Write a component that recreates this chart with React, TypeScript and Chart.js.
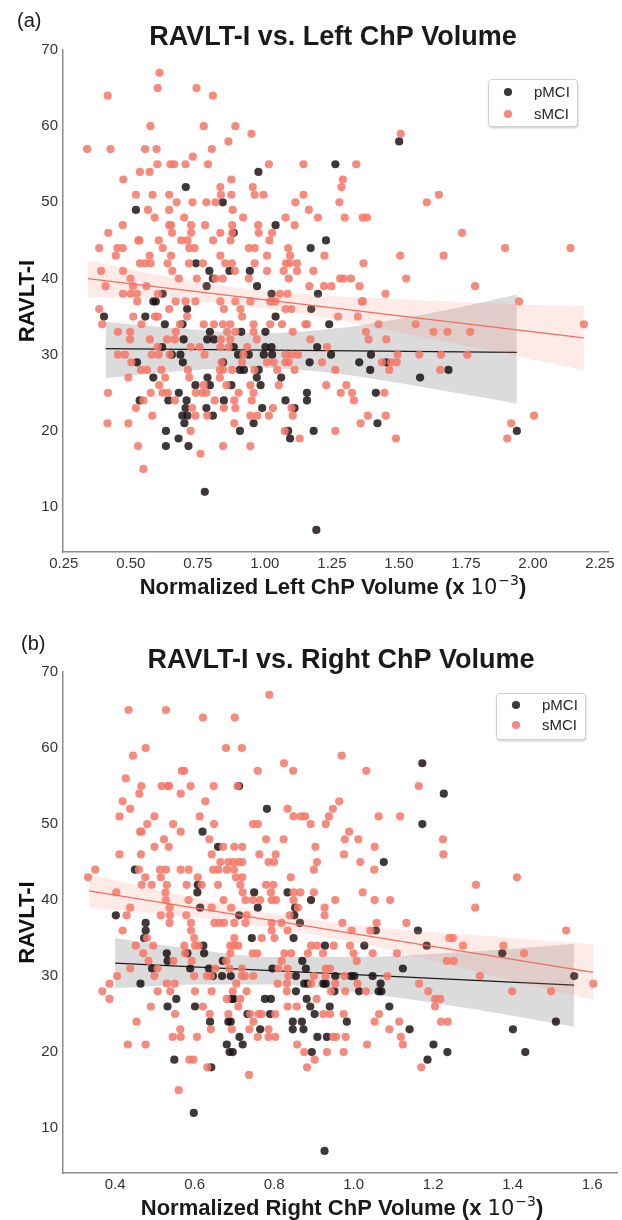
import React, { useEffect, useRef } from "react";
import { Chart, registerables } from "chart.js";

Chart.register(...registerables);

type Pt = [number, number];

// ---------------- tick labels ----------------
const LEFT_X_TICKS = [0.25, 0.5, 0.75, 1.0, 1.25, 1.5, 1.75, 2.0, 2.25];
const RIGHT_X_TICKS = [0.4, 0.6, 0.8, 1.0, 1.2, 1.4, 1.6];
const Y_TICKS = [10, 20, 30, 40, 50, 60, 70];

// ---------------- panel (a): Left ChP volume ----------------
const LEFT_PMCI: Pt[] = [
  [0.976,54],[0.705,52],[0.843,50],[0.519,49],[0.884,46],[0.743,42],[0.793,41],[0.868,41],[0.944,41],[0.806,40],[0.783,39],[0.971,39],[0.619,38],[0.584,37],
  [0.400,35],[0.554,35],[0.710,36],[0.627,34],[0.795,33],[0.912,33],[0.697,32],[0.785,32],[0.810,32],[0.617,31],[0.884,31],[0.653,30],[0.685,30],[0.900,30],[0.940,30],[0.523,29],[0.694,29],[0.844,29],[0.907,28],[0.922,28],[0.584,27],[0.786,27],[0.970,27],[0.741,26],[0.795,26],[0.875,26],[0.679,25],[0.533,24],[0.640,24],[0.708,24],[0.847,24],[0.704,23],[0.782,23],[0.692,22],[0.711,22],[0.806,22],[0.700,21],[0.958,21],[0.631,20],[0.907,20],[0.678,19],[0.631,18],[0.715,18],[0.776,12],[0.593,37],[0.693,34],
  [1.501,58],[1.263,55],[1.040,47],[1.228,45],[1.171,44],[1.025,38],[1.198,38],
  [1.173,36],[1.040,35],[1.240,34],[1.002,33],[1.002,31],[1.025,31],[1.195,31],[0.996,30],[1.027,30],[1.247,30],[1.396,30],[1.167,29],[1.352,29],[1.453,29],[0.977,28],[1.393,28],[1.685,28],[1.061,27],[1.579,27],[0.984,26],[1.157,25],[1.414,25],[1.077,24],[1.157,24],[0.990,23],[1.111,23],[1.420,21],[1.087,20],[1.182,20],[1.094,19],[1.192,7],[1.940,20],
];

const LEFT_SMCI: Pt[] = [
  [0.607,67],[0.600,65],[0.745,65],[0.414,64],[0.806,64],[0.573,60],[0.772,60],[0.890,60],[0.950,59],[0.864,58],[0.337,57],[0.424,57],[0.553,57],[0.596,57],[0.802,57],[0.731,56],[0.599,55],[0.648,55],[0.662,55],[0.704,55],[0.788,55],[0.534,54],[0.570,54],[0.472,53],[0.875,53],[0.834,52],[0.955,52],[0.519,51],[0.581,51],[0.643,51],[0.836,51],[0.875,51],[0.962,51],[0.671,50],[0.730,50],[0.782,50],[0.816,50],[0.564,49],[0.643,49],[0.880,49],[0.589,48],[0.699,48],[0.919,48],[0.470,47],[0.643,47],[0.650,47],[0.725,47],[0.777,47],[0.878,47],[0.416,46],[0.654,46],[0.725,46],[0.834,46],[0.878,46],[0.528,45],[0.532,45],[0.604,45],[0.688,45],[0.711,45],[0.807,45],[0.872,45],[0.382,44],[0.450,44],[0.470,44],[0.619,44],[0.718,44],[0.738,44],[0.940,44],[0.962,44],[0.444,43],[0.570,43],[0.650,43],[0.834,43],[0.534,42],[0.554,42],[0.574,42],[0.637,42],[0.717,42],[0.769,42],[0.852,42],[0.877,42],[0.962,42],[0.389,41],[0.471,41],[0.655,41],[0.888,41],[0.499,40],[0.679,40],[0.746,40],[0.816,40],[0.843,40],[0.940,40],[0.406,39],[0.508,39],[0.558,39],[0.471,38],[0.499,38],[0.523,38],[0.601,38],
  [0.524,37],[0.667,37],[0.704,37],[0.741,37],[0.834,37],[0.890,37],[0.946,37],
  [0.382,36],[0.643,36],[0.847,36],[0.909,36],
  [0.509,35],[0.590,35],[0.601,35],[0.710,35],[0.915,35],
  [0.393,34],[0.540,34],[0.683,34],[0.772,34],[0.810,34],[0.844,34],[0.871,34],[0.958,34],
  [0.452,33],[0.498,33],[0.668,33],[0.859,33],[0.890,33],[0.958,33],
  [0.497,32],[0.571,32],[0.635,32],[0.664,32],[0.836,32],[0.871,32],[0.970,32],
  [0.600,31],[0.724,31],[0.756,31],[0.834,31],[0.865,31],[0.934,31],
  [0.452,30],[0.478,30],[0.578,30],[0.604,30],[0.645,30],[0.775,30],[0.920,30],
  [0.502,29],[0.838,29],[0.915,29],
  [0.538,28],[0.560,28],[0.614,28],[0.713,28],[0.832,28],[0.844,28],[0.878,28],[0.961,28],
  [0.491,27],[0.628,27],[0.718,27],[0.832,27],
  [0.606,26],[0.772,26],[0.857,26],[0.946,26],
  [0.415,25],[0.574,25],[0.618,25],[0.638,25],[0.742,25],[0.766,25],[0.782,25],[0.902,25],[0.958,25],
  [0.547,24],[0.664,24],[0.813,24],[0.886,24],[0.951,24],
  [0.519,23],[0.729,23],[0.847,23],[0.890,23],
  [0.580,22],[0.741,22],[0.785,22],[0.946,22],[0.971,22],
  [0.413,21],[0.491,21],[0.886,21],
  [0.723,20],[0.527,18],[0.844,18],[0.946,18],[0.760,17],[0.547,15],
  [1.507,59],[1.015,55],[1.144,55],[1.341,55],[1.291,53],[1.286,52],[0.995,51],[1.144,51],[1.649,51],[1.604,50],[1.278,50],[1.114,50],[1.164,49],[1.077,48],[1.198,48],[1.298,48],[1.365,48],[1.381,48],[1.111,47],[0.975,47],[1.027,46],[0.977,46],[1.017,45],[1.087,44],[1.008,43],[1.094,43],[1.222,43],[1.505,43],[1.667,43],[1.079,42],[1.092,42],[1.120,42],[1.368,42],[1.070,41],[1.008,41],[1.120,41],[1.181,41],[1.089,40],[1.281,40],[1.294,40],[1.321,40],[1.527,40],[1.166,39],[1.221,39],[1.248,39],[1.353,39],[1.056,38],[1.084,38],[1.450,38],[1.365,37],[1.027,37],
  [1.736,46],[1.896,44],[2.140,44],[1.784,39],
  [1.362,37],[1.020,37],[1.040,37],[1.077,36],[1.099,36],[1.273,35],[1.347,35],[1.020,34],[1.064,34],[1.151,34],[1.157,34],[1.424,34],[1.563,34],[1.104,33],[1.377,33],[1.629,33],[1.681,33],[1.387,32],[1.453,32],[1.170,32],[1.232,31],[1.077,30],[1.101,30],[1.124,30],[1.495,30],[1.576,30],[1.657,30],[1.008,29],[1.033,29],[1.077,29],[1.089,29],[1.213,29],[1.437,29],[1.471,29],[1.492,29],[1.046,28],[1.111,28],[1.263,28],[1.464,28],[1.654,28],[1.052,26],[1.229,26],[1.304,26],[1.283,25],[1.325,25],[1.446,25],[1.332,24],[1.030,23],[1.099,23],[1.015,22],[1.104,22],[1.384,22],[1.451,22],[1.357,21],[1.074,20],[1.263,20],[1.130,19],[1.489,19],
  [1.948,37],[2.190,34],[1.766,33],[1.755,30],[2.004,22],[1.919,21],[1.904,19],
];

const LEFT_PMCI_FIT_X = [0.406, 1.94];
const LEFT_PMCI_FIT_Y = [30.8, 30.3];
const LEFT_PMCI_BAND_X = [0.406, 0.7, 0.98, 1.25, 1.5, 1.71, 1.94];
const LEFT_PMCI_BAND_HI = [34.3, 33.4, 32.8, 33.4, 34.7, 36.1, 37.9];
const LEFT_PMCI_BAND_LO = [26.9, 27.9, 28.3, 27.6, 26.3, 25.0, 23.6];

const LEFT_SMCI_FIT_X = [0.34, 2.19];
const LEFT_SMCI_FIT_Y = [40.0, 32.2];
const LEFT_SMCI_BAND_X = [0.34, 0.6, 0.9, 1.2, 1.5, 1.8, 2.19];
const LEFT_SMCI_BAND_HI = [42.4, 40.5, 38.8, 37.8, 37.3, 36.8, 36.4];
const LEFT_SMCI_BAND_LO = [37.6, 37.3, 36.5, 35.0, 32.9, 30.8, 28.0];

// ---------------- panel (b): Right ChP volume ----------------
const RIGHT_PMCI: Pt[] = [
  [0.712,55],[0.620,49],[0.659,47],[0.450,44],[0.608,42],[0.607,41],[0.750,41],[0.614,39],[0.759,39],[0.402,38],[0.712,38],[0.477,37],
  [0.477,36],[0.473,35],[0.744,35],[0.622,34],[0.530,33],[0.582,33],[0.624,33],[0.532,32],[0.671,32],[0.493,31],[0.589,31],[0.636,31],[0.646,30],[0.669,30],[0.691,30],[0.464,29],[0.554,27],[0.694,27],[0.698,27],[0.532,26],[0.601,26],[0.733,25],[0.639,24],[0.685,24],[0.691,24],[0.765,23],[0.713,22],[0.681,21],[0.721,21],[0.688,20],[0.696,20],[0.549,19],[0.642,18],[0.598,12],
  [1.173,58],[1.227,54],[0.782,52],[1.173,50],[1.076,45],[0.834,41],[0.893,40],[0.853,39],[0.851,38],[0.865,37],
  [1.056,36],[1.162,36],[0.849,35],[0.928,34],[1.027,34],[1.184,34],[0.871,32],[0.796,31],[0.880,31],[1.124,31],[0.855,30],[0.954,30],[0.993,30],[1.002,30],[1.048,30],[0.876,29],[0.885,29],[0.924,29],[0.930,29],[1.068,29],[0.855,28],[0.952,28],[1.014,28],[1.063,28],[1.070,28],[0.777,27],[0.792,27],[0.882,27],[0.891,26],[0.940,26],[1.090,26],[0.790,25],[0.902,25],[0.847,24],[0.870,24],[0.983,24],[0.847,23],[0.874,23],[1.141,23],[0.909,22],[0.933,22],[1.201,21],[0.895,20],[1.236,20],[1.186,19],[0.927,7],
  [1.374,33],[1.555,30],[1.401,23],[1.509,24],[1.432,20],
];

const RIGHT_SMCI: Pt[] = [
  [0.434,65],[0.528,65],[0.621,64],[0.701,64],[0.477,60],[0.679,60],[0.719,60],[0.445,59],[0.568,57],[0.574,57],[0.759,57],[0.427,56],[0.466,55],[0.517,55],[0.532,55],[0.536,55],[0.590,55],[0.648,55],[0.708,55],[0.461,54],[0.565,54],[0.419,53],[0.627,53],[0.438,52],[0.411,51],[0.499,51],[0.613,51],[0.481,50],[0.546,50],[0.649,50],[0.747,50],[0.759,50],[0.463,49],[0.467,49],[0.565,49],[0.523,48],[0.637,48],[0.499,47],[0.535,47],[0.672,47],[0.700,47],[0.720,47],[0.411,46],[0.465,46],[0.643,46],[0.763,46],[0.665,45],[0.685,45],[0.698,45],[0.711,45],[0.720,45],[0.350,44],[0.460,44],[0.513,44],[0.528,44],[0.565,44],[0.585,44],[0.647,44],[0.660,44],[0.681,44],[0.699,44],[0.332,43],[0.476,43],[0.515,43],[0.608,43],[0.704,43],[0.720,43],[0.467,42],[0.492,42],[0.530,42],[0.580,42],[0.618,42],[0.659,42],[0.715,42],[0.403,41],[0.527,41],[0.721,41],[0.528,40],[0.585,40],[0.673,40],[0.728,40],[0.747,40],[0.438,39],[0.537,39],[0.643,39],[0.692,39],[0.429,38],[0.515,38],[0.538,38],[0.579,38],[0.731,38],[0.537,37],[0.591,37],[0.650,37],[0.662,37],[0.674,37],[0.700,37],[0.728,37],
  [0.419,36],[0.591,36],[0.480,35],[0.599,35],[0.700,35],[0.452,34],[0.496,34],[0.574,34],[0.601,34],[0.610,34],[0.690,34],[0.700,34],[0.710,34],[0.471,33],[0.576,33],[0.690,33],[0.746,33],[0.758,33],[0.484,32],[0.547,32],[0.593,32],[0.680,32],[0.438,31],[0.507,31],[0.652,31],[0.688,31],[0.719,31],[0.405,30],[0.499,30],[0.599,30],[0.631,30],[0.641,30],[0.719,30],[0.727,30],[0.748,30],[0.386,29],[0.530,29],[0.550,29],[0.705,29],[0.368,28],[0.507,28],[0.539,28],[0.601,28],[0.643,28],[0.696,28],[0.731,28],[0.386,27],[0.681,27],[0.715,27],[0.490,26],[0.621,26],[0.710,26],[0.551,25],[0.638,25],[0.685,25],[0.740,25],[0.454,24],[0.748,24],[0.564,23],[0.641,23],[0.694,23],[0.738,23],[0.545,22],[0.565,22],[0.606,22],[0.432,21],[0.477,21],[0.587,19],[0.597,19],[0.632,18],[0.737,17],[0.560,15],
  [0.788,67],[0.970,59],[0.825,58],[0.848,57],[1.032,57],[1.164,55],[0.964,53],[0.834,52],[0.948,52],[0.849,51],[0.868,51],[0.878,51],[0.938,51],[1.063,51],[1.117,51],[0.892,50],[0.930,50],[0.989,49],[0.780,48],[0.824,48],[0.978,48],[1.012,48],[1.225,48],[0.904,47],[1.053,47],[0.804,46],[0.976,46],[1.226,46],[0.786,45],[0.800,45],[0.908,45],[1.017,45],[0.900,44],[1.052,44],[0.842,43],[0.780,42],[0.798,42],[0.792,41],[0.849,41],[0.866,41],[0.900,41],[1.023,41],[0.765,40],[0.794,40],[0.805,40],[0.849,40],[0.954,40],[1.053,40],[1.092,40],[0.860,39],[0.927,39],[0.839,38],[0.927,38],[0.794,37],[0.819,37],[0.972,37],[1.058,37],[1.133,37],
  [0.794,36],[0.834,36],[1.042,36],[0.995,36],[0.769,35],[0.801,35],[1.241,35],[0.893,34],[0.908,34],[0.950,34],[0.991,34],[0.826,33],[0.843,33],[0.885,33],[0.923,33],[1.000,33],[1.048,33],[1.109,33],[0.819,32],[1.008,32],[1.235,32],[1.252,32],[0.811,31],[0.834,31],[0.930,31],[0.941,31],[0.836,30],[0.900,30],[0.930,30],[0.977,30],[1.085,30],[0.809,29],[0.832,29],[0.893,29],[0.954,29],[1.010,29],[1.165,29],[0.832,28],[0.943,28],[0.979,28],[1.031,28],[1.188,28],[0.907,27],[1.205,27],[1.218,27],[0.834,26],[0.857,26],[1.205,26],[0.761,25],[0.769,25],[0.803,25],[0.924,25],[0.941,25],[0.975,25],[1.064,25],[1.053,24],[1.115,24],[1.220,24],[1.237,24],[0.786,23],[1.090,23],[0.759,22],[0.786,22],[0.803,22],[0.949,22],[0.956,22],[0.980,22],[1.119,22],[0.858,21],[1.034,21],[1.124,21],[0.876,20],[0.933,20],[0.975,20],[0.902,19],[0.883,18],[1.170,18],
  [1.308,42],[1.411,43],[1.306,39],[1.250,35],[1.275,34],[1.377,34],[1.429,33],[1.535,36],[1.318,30],[1.603,29],[1.399,28],[1.497,28],
];

const RIGHT_PMCI_FIT_X = [0.40, 1.555];
const RIGHT_PMCI_FIT_Y = [31.7, 28.8];
const RIGHT_PMCI_BAND_X = [0.40, 0.6, 0.8, 1.0, 1.2, 1.4, 1.555];
const RIGHT_PMCI_BAND_HI = [35.0, 33.5, 32.5, 32.5, 32.9, 33.6, 34.25];
const RIGHT_PMCI_BAND_LO = [28.4, 28.9, 28.9, 27.9, 26.5, 24.8, 23.35];

const RIGHT_SMCI_FIT_X = [0.335, 1.603];
const RIGHT_SMCI_FIT_Y = [41.2, 30.5];
const RIGHT_SMCI_BAND_X = [0.335, 0.55, 0.8, 1.0, 1.2, 1.4, 1.603];
const RIGHT_SMCI_BAND_HI = [43.4, 40.8, 38.2, 36.7, 35.8, 35.0, 34.15];
const RIGHT_SMCI_BAND_LO = [39.0, 38.0, 36.3, 34.5, 32.0, 29.4, 26.85];

// ---------------- styling ----------------
const FONT = '"Liberation Sans", Arial, Helvetica, sans-serif';
const AXIS_COLOR = "#8c8c8c";
const TICK_COLOR = "#333333";
const PMCI_COLOR = "rgba(28,18,18,0.84)";
const SMCI_COLOR = "rgba(245,120,104,0.86)";
const PMCI_BAND = "rgba(0,0,0,0.14)";
const SMCI_BAND = "rgba(250,128,114,0.16)";
const PMCI_LINE = "#1a1a1a";
const SMCI_LINE = "rgb(240,110,95)";
const POINT_R = 4.1;

interface LegendSpec { x: number; y: number; w: number; h: number; mx: number; r1: number; r2: number; tx: number; }
interface PanelSpec {
  label: string; title: string; xTitle: string;
  pmci: Pt[]; smci: Pt[];
  pBandX: number[]; pBandHi: number[]; pBandLo: number[]; pFitX: number[]; pFitY: number[];
  sBandX: number[]; sBandHi: number[]; sBandLo: number[]; sFitX: number[]; sFitY: number[];
  xMin: number; xMax: number; xTicks: number[]; xDecimals: number;
  padTop: number; padRight: number; xAxisHeight: number;
  labelPos: [number, number]; titlePos: [number, number]; xTitlePos: [number, number];
  legend: LegendSpec;
}

const PANEL_A: PanelSpec = {
  label: "(a)", title: "RAVLT-I vs. Left ChP Volume", xTitle: "Normalized Left ChP Volume",
  pmci: LEFT_PMCI, smci: LEFT_SMCI,
  pBandX: LEFT_PMCI_BAND_X, pBandHi: LEFT_PMCI_BAND_HI, pBandLo: LEFT_PMCI_BAND_LO, pFitX: LEFT_PMCI_FIT_X, pFitY: LEFT_PMCI_FIT_Y,
  sBandX: LEFT_SMCI_BAND_X, sBandHi: LEFT_SMCI_BAND_HI, sBandLo: LEFT_SMCI_BAND_LO, sFitX: LEFT_SMCI_FIT_X, sFitY: LEFT_SMCI_FIT_Y,
  xMin: 0.247, xMax: 2.28, xTicks: LEFT_X_TICKS, xDecimals: 2,
  padTop: 50, padRight: 14, xAxisHeight: 58,
  labelPos: [17, 27], titlePos: [333, 45], xTitlePos: [333, 594],
  legend: { x: 488, y: 79, w: 89, h: 47, mx: 508, r1: 92, r2: 114, tx: 534 },
};

const PANEL_B: PanelSpec = {
  label: "(b)", title: "RAVLT-I vs. Right ChP Volume", xTitle: "Normalized Right ChP Volume",
  pmci: RIGHT_PMCI, smci: RIGHT_SMCI,
  pBandX: RIGHT_PMCI_BAND_X, pBandHi: RIGHT_PMCI_BAND_HI, pBandLo: RIGHT_PMCI_BAND_LO, pFitX: RIGHT_PMCI_FIT_X, pFitY: RIGHT_PMCI_FIT_Y,
  sBandX: RIGHT_SMCI_BAND_X, sBandHi: RIGHT_SMCI_BAND_HI, sBandLo: RIGHT_SMCI_BAND_LO, sFitX: RIGHT_SMCI_FIT_X, sFitY: RIGHT_SMCI_FIT_Y,
  xMin: 0.269, xMax: 1.665, xTicks: RIGHT_X_TICKS, xDecimals: 1,
  padTop: 62, padRight: 4, xAxisHeight: 47,
  labelPos: [21, 40], titlePos: [341, 58], xTitlePos: [342, 605],
  legend: { x: 496, y: 83, w: 89, h: 46, mx: 516, r1: 95, r2: 115, tx: 542 },
};

function drawXTitle(ctx: CanvasRenderingContext2D, main: string, cx: number, base: number) {
  const bold = `bold 22px ${FONT}`;
  const reg = `21px "DejaVu Sans", ${FONT}`;
  const sup = `14px "DejaVu Sans", ${FONT}`;
  const a = main + " (x ";
  const b = "10";
  const c = "\u22123";
  const d = ")";
  ctx.font = bold;
  const wa = ctx.measureText(a).width;
  const wd = ctx.measureText(d).width;
  ctx.font = reg;
  const wb = ctx.measureText(b).width;
  ctx.font = sup;
  const wc = ctx.measureText(c).width;
  let x = cx - (wa + wb + wc + wd + 1) / 2;
  ctx.textAlign = "left";
  ctx.font = bold; ctx.fillText(a, x, base); x += wa;
  ctx.font = reg; ctx.fillText(b, x, base); x += wb + 1;
  ctx.font = sup; ctx.fillText(c, x, base - 9); x += wc;
  ctx.font = bold; ctx.fillText(d, x, base);
}

function drawLegend(ctx: CanvasRenderingContext2D, L: LegendSpec) {
  ctx.save();
  ctx.shadowColor = "rgba(0,0,0,0.22)";
  ctx.shadowBlur = 3;
  ctx.shadowOffsetX = 1;
  ctx.shadowOffsetY = 2;
  ctx.fillStyle = "#ffffff";
  ctx.beginPath();
  (ctx as any).roundRect(L.x, L.y, L.w, L.h, 3);
  ctx.fill();
  ctx.restore();
  ctx.save();
  ctx.strokeStyle = "#cfcfcf";
  ctx.lineWidth = 1;
  ctx.beginPath();
  (ctx as any).roundRect(L.x + 0.5, L.y + 0.5, L.w, L.h, 3);
  ctx.stroke();
  const rows: [string, string, number][] = [["pMCI", PMCI_COLOR, L.r1], ["sMCI", SMCI_COLOR, L.r2]];
  ctx.font = `15px ${FONT}`;
  ctx.textAlign = "left";
  ctx.textBaseline = "middle";
  for (const [name, col, ry] of rows) {
    ctx.fillStyle = col;
    ctx.beginPath();
    ctx.arc(L.mx, ry, 4.1, 0, Math.PI * 2);
    ctx.fill();
    ctx.fillStyle = "#262626";
    ctx.fillText(name, L.tx, ry + 1);
  }
  ctx.restore();
}

function makeTextPlugin(s: PanelSpec) {
  return {
    id: "panelText",
    afterDraw(chart: any) {
      const ctx: CanvasRenderingContext2D = chart.ctx;
      ctx.save();
      ctx.fillStyle = "#1a1a1a";
      ctx.textBaseline = "alphabetic";
      ctx.textAlign = "left";
      ctx.font = `20px ${FONT}`;
      ctx.fillText(s.label, s.labelPos[0], s.labelPos[1]);
      ctx.font = `bold 27px ${FONT}`;
      ctx.textAlign = "center";
      ctx.fillText(s.title, s.titlePos[0], s.titlePos[1]);
      drawXTitle(ctx, s.xTitle, s.xTitlePos[0], s.xTitlePos[1]);
      ctx.restore();
      drawLegend(ctx, s.legend);
    },
  };
}

const toXY = (pts: Pt[]) => pts.map(([x, y]) => ({ x, y }));
const zipXY = (xs: number[], ys: number[]) => xs.map((x, i) => ({ x, y: ys[i] }));

function buildConfig(s: PanelSpec): any {
  const scatter = (label: string, pts: Pt[], color: string, order: number) => ({
    type: "scatter", label, data: toXY(pts), backgroundColor: color, borderColor: "rgba(0,0,0,0)",
    pointRadius: POINT_R, pointBorderWidth: 0, order,
  });
  const band = (xs: number[], ys: number[], color: string, order: number, fill: any) => ({
    type: "line", label: "band", data: zipXY(xs, ys), borderWidth: 0, borderColor: "rgba(0,0,0,0)",
    pointRadius: 0, backgroundColor: color, fill, cubicInterpolationMode: "monotone", order,
  });
  const fit = (xs: number[], ys: number[], color: string, order: number) => ({
    type: "line", label: "fit", data: zipXY(xs, ys), borderColor: color, borderWidth: 1.3,
    pointRadius: 0, fill: false, order,
  });
  const datasets = [
    scatter("pMCI", s.pmci, PMCI_COLOR, 6),
    band(s.pBandX, s.pBandHi, PMCI_BAND, 5, "+1"),
    band(s.pBandX, s.pBandLo, PMCI_BAND, 5, false),
    fit(s.pFitX, s.pFitY, PMCI_LINE, 4),
    scatter("sMCI", s.smci, SMCI_COLOR, 3),
    band(s.sBandX, s.sBandHi, SMCI_BAND, 2, "+1"),
    band(s.sBandX, s.sBandLo, SMCI_BAND, 2, false),
    fit(s.sFitX, s.sFitY, SMCI_LINE, 1),
  ];
  const zeroPad = (sc: any) => { sc.paddingTop = 0; sc.paddingBottom = 0; sc.paddingLeft = 0; sc.paddingRight = 0; };
  return {
    type: "scatter",
    data: { datasets },
    options: {
      animation: false,
      responsive: false,
      maintainAspectRatio: false,
      events: [],
      layout: { padding: { left: 0, right: s.padRight, top: s.padTop, bottom: 0 } },
      plugins: { legend: { display: false }, tooltip: { enabled: false }, title: { display: false } },
      scales: {
        x: {
          type: "linear", position: "bottom", min: s.xMin, max: s.xMax,
          afterBuildTicks: (sc: any) => { sc.ticks = s.xTicks.map((v) => ({ value: v })); },
          afterFit: (sc: any) => { sc.height = s.xAxisHeight; zeroPad(sc); },
          grid: { display: false, drawTicks: false },
          border: { display: true, color: AXIS_COLOR, width: 1.5 },
          ticks: {
            padding: 3, color: TICK_COLOR, autoSkip: false, maxRotation: 0,
            font: { family: FONT, size: 15 },
            callback: (v: any) => Number(v).toFixed(s.xDecimals),
          },
        },
        y: {
          type: "linear", position: "left", min: 4.1, max: 70,
          afterBuildTicks: (sc: any) => { sc.ticks = Y_TICKS.map((v) => ({ value: v })); },
          afterFit: (sc: any) => { sc.width = 63; zeroPad(sc); },
          grid: { display: false, drawTicks: false },
          border: { display: true, color: AXIS_COLOR, width: 1.5 },
          ticks: {
            padding: 5, color: TICK_COLOR, autoSkip: false,
            font: { family: FONT, size: 15 },
            callback: (v: any) => String(v),
          },
          title: {
            display: true, text: "RAVLT-I", color: "#111111",
            font: { family: FONT, size: 22, weight: "bold" },
            padding: { top: 15, bottom: 0 },
          },
        },
      },
    },
    plugins: [makeTextPlugin(s)],
  };
}

function Panel({ spec, top }: { spec: PanelSpec; top: number }) {
  const ref = useRef<HTMLCanvasElement | null>(null);
  useEffect(() => {
    const canvas = ref.current;
    if (!canvas) return;
    const chart = new Chart(canvas, buildConfig(spec));
    return () => chart.destroy();
  }, [spec]);
  return (
    <canvas
      ref={ref}
      width={622}
      height={610}
      style={{ position: "absolute", left: 0, top, width: 622, height: 610, display: "block" }}
    />
  );
}

export default function App() {
  return (
    <div style={{ position: "absolute", left: 0, top: 0, width: 622, height: 1220, background: "#ffffff", overflow: "hidden" }}>
      <Panel spec={PANEL_A} top={0} />
      <Panel spec={PANEL_B} top={610} />
    </div>
  );
}
